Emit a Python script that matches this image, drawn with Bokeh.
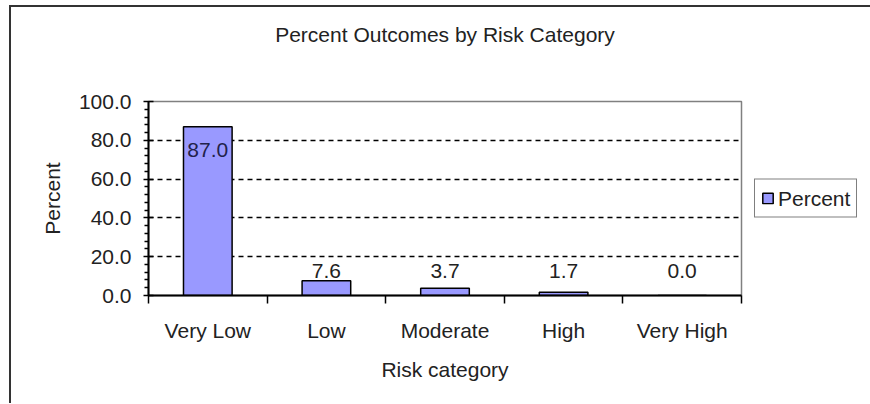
from bokeh.plotting import figure
from bokeh.models import Range1d, FixedTicker, PrintfTickFormatter, Legend, LegendItem, LinearAxis
from bokeh.embed import file_html
from bokeh.resources import INLINE
from bokeh.core.properties import value

# ---- data ----
categories = ["Very Low", "Low", "Moderate", "High", "Very High"]
percent = [87.0, 7.6, 3.7, 1.7, 0.0]
value_labels = ["87.0", "7.6", "3.7", "1.7", "0.0"]
y_ticks = [0, 20, 40, 60, 80, 100]
grid_ticks = [20, 40, 60, 80]
title_text = "Percent Outcomes by Risk Category"
x_title = "Risk category"
y_title = "Percent"
series_name = "Percent"

# ---- style ----
FONT = "Liberation Sans"
FS = "21px"
TXT = "#222222"
BAR = "#9999FF"

n = len(categories)
centers = [i + 0.5 for i in range(n)]
bounds = list(range(n + 1))
minor_y = [m for m in range(0, 101, 4) if m % 20]

p = figure(frame_width=593, frame_height=194, output_backend="svg", toolbar_location=None,
           x_range=Range1d(0, n), y_range=Range1d(0, 100),
           min_border_left=137, min_border_right=128, min_border_top=94, min_border_bottom=108,
           background_fill_color="white", border_fill_color="white")
p.styles = {"border-left": "2px solid #333333", "border-top": "2px solid #333333",
            "margin-left": "9px", "margin-top": "5px"}

p.outline_line_color = "#808080"
p.outline_line_width = 1.5
p.title.text = ""

xa = p.below[0]
ya = p.left[0]

# title, drawn as the label of a bare axis above the frame
ta = LinearAxis(ticker=FixedTicker(ticks=[]), axis_label=title_text,
                axis_line_color=None, major_tick_line_color=None, minor_tick_line_color=None,
                major_tick_in=0, major_tick_out=0, minor_tick_in=0, minor_tick_out=0,
                major_label_standoff=0, major_label_text_font_size="0px",
                axis_label_standoff=56, axis_label_text_font=FONT,
                axis_label_text_font_size=FS, axis_label_text_font_style="normal",
                axis_label_text_color=TXT)
p.add_layout(ta, "above")

# grid
p.xgrid.visible = False
p.ygrid.ticker = FixedTicker(ticks=grid_ticks)
p.ygrid.grid_line_color = "black"
p.ygrid.grid_line_dash = "5 4"
p.ygrid.grid_line_width = 1.5

# bars
bars = p.vbar(x=centers, top=percent, width=0.41, bottom=0,
              fill_color=BAR, line_color="black", line_width=1.5)

# value labels
in_idx = [i for i, v in enumerate(percent) if v > 80]
out_idx = [i for i, v in enumerate(percent) if v <= 80]
min_label = 12.5
p.text(x=[centers[i] for i in in_idx], y=[percent[i] for i in in_idx],
       text=[value_labels[i] for i in in_idx], text_align="center", text_baseline="top",
       y_offset=16, text_font=value(FONT), text_font_size=FS, text_color="#22224a")
p.text(x=[centers[i] for i in out_idx], y=[max(percent[i], min_label) for i in out_idx],
       text=[value_labels[i] for i in out_idx], text_align="center", text_baseline="alphabetic",
       text_font=value(FONT), text_font_size=FS, text_color=TXT)

# y axis
ya.ticker = FixedTicker(ticks=y_ticks, minor_ticks=minor_y)
ya.formatter = PrintfTickFormatter(format="%.1f")
ya.axis_line_color = "black"
ya.axis_line_width = 2
ya.major_tick_line_color = "black"
ya.major_tick_line_width = 1.5
ya.major_tick_in = 5
ya.major_tick_out = 5
ya.minor_tick_line_color = "black"
ya.minor_tick_line_width = 1.5
ya.minor_tick_in = 0
ya.minor_tick_out = 4
ya.major_label_standoff = 12
ya.major_label_text_font = FONT
ya.major_label_text_font_size = FS
ya.major_label_text_color = TXT
ya.axis_label = y_title
ya.axis_label_text_font = FONT
ya.axis_label_text_font_size = FS
ya.axis_label_text_font_style = "normal"
ya.axis_label_text_color = TXT
ya.axis_label_standoff = 12

# x axis
xa.ticker = FixedTicker(ticks=centers, minor_ticks=bounds)
xa.major_label_overrides = {c: cat for c, cat in zip(centers, categories)}
xa.axis_line_color = "black"
xa.axis_line_width = 2
xa.major_tick_line_color = None
xa.major_tick_in = 0
xa.major_tick_out = 0
xa.minor_tick_line_color = "black"
xa.minor_tick_line_width = 1.5
xa.minor_tick_in = 0
xa.minor_tick_out = 8
xa.major_label_standoff = 15
xa.major_label_text_font = FONT
xa.major_label_text_font_size = FS
xa.major_label_text_color = TXT
xa.axis_label = x_title
xa.axis_label_text_font = FONT
xa.axis_label_text_font_size = FS
xa.axis_label_text_font_style = "normal"
xa.axis_label_text_color = TXT
xa.axis_label_standoff = 13

# legend in the right-hand panel
legend = Legend(items=[LegendItem(label=series_name, renderers=[bars])],
                location="left", margin=13, padding=6, spacing=0,
                glyph_width=13, glyph_height=13, label_standoff=4, label_height=25,
                label_text_font=FONT, label_text_font_size=FS, label_text_color=TXT,
                border_line_color="black", border_line_width=1.5,
                background_fill_color="white", background_fill_alpha=1.0)
p.add_layout(legend, "right")

open("out.html", "w").write(file_html(p, INLINE))
